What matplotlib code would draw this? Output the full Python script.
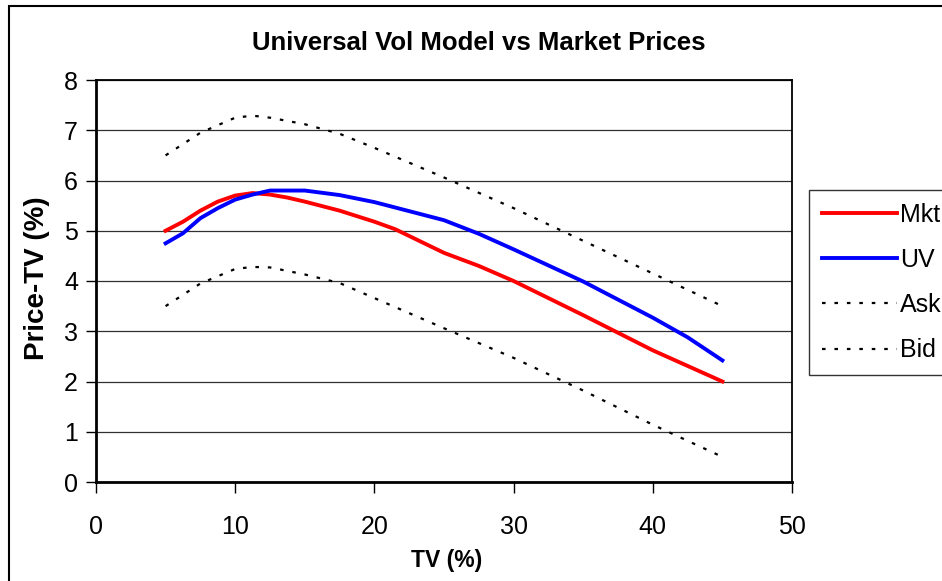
import matplotlib.pyplot as plt
from matplotlib.patches import Rectangle

plt.rcParams['font.family'] = ['Liberation Sans', 'DejaVu Sans']

# TV (%) on x, Price-TV (%) on y
tv_mkt = [5, 6.25, 7.5, 8.75, 10, 11.25, 12.5, 13.75, 15, 17.5, 20, 21.5, 25, 27.5, 30, 35, 40, 45]
mkt = [5.0, 5.18, 5.4, 5.58, 5.7, 5.75, 5.72, 5.66, 5.58, 5.4, 5.18, 5.03, 4.56, 4.3, 4.0, 3.32, 2.62, 2.0]

tv_uv = [5, 6.25, 7.5, 8.75, 10, 11.25, 12.5, 15, 17.5, 20, 22.5, 25, 27.5, 30, 35, 40, 42.5, 45]
uv = [4.75, 4.95, 5.25, 5.45, 5.62, 5.72, 5.8, 5.8, 5.71, 5.57, 5.39, 5.21, 4.94, 4.63, 3.99, 3.27, 2.88, 2.42]

tv_spread = [5, 7.5, 10, 11.25, 12.5, 15, 17.5, 20, 25, 30, 35, 40, 45]
ask = [6.5, 6.95, 7.25, 7.29, 7.25, 7.12, 6.93, 6.65, 6.06, 5.45, 4.8, 4.15, 3.5]
bid = [3.5, 3.95, 4.24, 4.28, 4.27, 4.13, 3.96, 3.66, 3.06, 2.47, 1.82, 1.14, 0.5]

fig = plt.figure(figsize=(9.42, 5.81), dpi=100)
ax = fig.add_axes([96/942, 1 - 482/581, (792 - 96)/942, (482 - 80)/581])

dots = (0, (1.6, 4))
ax.plot(tv_mkt, mkt, color='#ff0000', lw=2.8, label='Mkt')
ax.plot(tv_uv, uv, color='#0000ff', lw=2.8, label='UV')
ax.plot(tv_spread, ask, color='black', lw=1.6, ls=dots, label='Ask')
ax.plot(tv_spread, bid, color='black', lw=1.6, ls=dots, label='Bid')

ax.set_xlim(0, 50)
ax.set_ylim(0, 8)
ax.set_xticks(range(0, 51, 10))
ax.set_yticks(range(0, 9))
ax.yaxis.grid(True, color='#303030', lw=0.9)
ax.set_axisbelow(True)
for s in ax.spines.values():
    s.set_color('black')
    s.set_linewidth(1.3)
ax.spines['left'].set_linewidth(2)
ax.spines['bottom'].set_linewidth(2)
ax.tick_params(axis='y', direction='out', length=7, width=1, pad=6, labelsize=18)
ax.tick_params(axis='x', direction='out', length=8, width=1, pad=16, labelsize=18)

fig.text(479/942, 1 - 43/581, 'Universal Vol Model vs Market Prices', ha='center', va='center',
         fontsize=18.5, fontweight='bold')
fig.text(37/942, 1 - 278/581, 'Price-TV (%)', rotation=90, ha='center', va='center',
         fontsize=20, fontweight='bold')
fig.text(447/942, 1 - 561/581, 'TV (%)', ha='center', va='center', fontsize=16.5, fontweight='bold')

leg = fig.legend(loc='upper left', bbox_to_anchor=(809/942, 1 - 190/581), borderaxespad=0,
                 fontsize=18, frameon=True, fancybox=False, edgecolor='black',
                 handlelength=3.0, handletextpad=0.15, labelspacing=0.85, borderpad=0.5)
leg.get_frame().set_linewidth(1.0)

# chart area border
fig.add_artist(Rectangle((9/942, -0.1), 1.0, 1 - 6/581 + 0.1, transform=fig.transFigure,
                         fill=False, edgecolor='black', lw=1.5))

fig.savefig('out.png', dpi=100)
